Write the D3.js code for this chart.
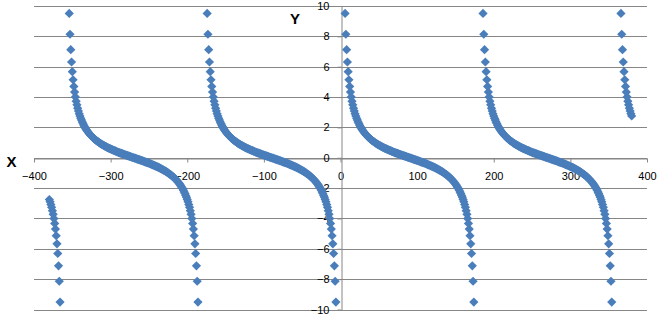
<!DOCTYPE html>
<html>
<head>
<meta charset="utf-8">
<script src="https://cdn.jsdelivr.net/npm/d3@7"></script>
<style>
  body { margin: 0; background: #fff; }
  text { font-family: "Liberation Sans", Arial, sans-serif; }
</style>
</head>
<body>
<svg id="chart" width="661" height="318"></svg>
<script>
// one point per degree; each full branch starts at these x values
const branchStartX = [-354, -174, 6, 186];
const branchY = [
  9.51, 8.14, 7.12, 6.31, 5.67, 5.14, 4.70, 4.33, 4.01, 3.73,
  3.49, 3.27, 3.08, 2.90, 2.75, 2.61, 2.48, 2.36, 2.25, 2.14,
  2.05, 1.96, 1.88, 1.80, 1.73, 1.66, 1.60, 1.54, 1.48, 1.43,
  1.38, 1.33, 1.28, 1.23, 1.19, 1.15, 1.11, 1.07, 1.04, 1.00,
  0.97, 0.93, 0.90, 0.87, 0.84, 0.81, 0.78, 0.75, 0.73, 0.70,
  0.67, 0.65, 0.62, 0.60, 0.58, 0.55, 0.53, 0.51, 0.49, 0.47,
  0.45, 0.42, 0.40, 0.38, 0.36, 0.34, 0.32, 0.31, 0.29, 0.27,
  0.25, 0.23, 0.21, 0.19, 0.18, 0.16, 0.14, 0.12, 0.11, 0.09,
  0.07, 0.05, 0.03, 0.02, 0,
  -0.02, -0.03, -0.05, -0.07, -0.09, -0.11, -0.12, -0.14, -0.16, -0.18,
  -0.19, -0.21, -0.23, -0.25, -0.27, -0.29, -0.31, -0.32, -0.34, -0.36,
  -0.38, -0.40, -0.42, -0.45, -0.47, -0.49, -0.51, -0.53, -0.55, -0.58,
  -0.60, -0.62, -0.65, -0.67, -0.70, -0.73, -0.75, -0.78, -0.81, -0.84,
  -0.87, -0.90, -0.93, -0.97, -1.00, -1.04, -1.07, -1.11, -1.15, -1.19,
  -1.23, -1.28, -1.33, -1.38, -1.43, -1.48, -1.54, -1.60, -1.66, -1.73,
  -1.80, -1.88, -1.96, -2.05, -2.14, -2.25, -2.36, -2.48, -2.61, -2.75,
  -2.90, -3.08, -3.27, -3.49, -3.73, -4.01, -4.33, -4.70, -5.14, -5.67,
  -6.31, -7.12, -8.14, -9.51
];

// partial branches at both ends
const leftTailStartX = -380;
const leftTailY = [-2.75, -2.90, -3.08, -3.27, -3.49, -3.73, -4.01, -4.33, -4.70, -5.14, -5.67, -6.31, -7.12, -8.14, -9.51];
const rightTailStartX = 366;
const rightTailY = [9.51, 8.14, 7.12, 6.31, 5.67, 5.14, 4.70, 4.33, 4.01, 3.73, 3.49, 3.27, 3.08, 2.90, 2.75];

const xTicks = [-400, -300, -200, -100, 0, 100, 200, 300, 400];
const yTicks = [-10, -8, -6, -4, -2, 0, 2, 4, 6, 8, 10];

const grid_color = '#868686';
const marker_color = '#4a7ebb';
const marker_half = 4.6;

const points = [];
const addBranch = (x0, ys) => ys.forEach((v, i) => points.push({x: x0 + i, y: v}));
addBranch(leftTailStartX, leftTailY);
branchStartX.forEach(x0 => addBranch(x0, branchY));
addBranch(rightTailStartX, rightTailY);

const svg = d3.select('#chart');

const x = d3.scaleLinear().domain([-400, 400]).range([34, 647]);
const y = d3.scaleLinear().domain([-10, 10]).range([309.5, 6]);

// horizontal gridlines
svg.append('g')
  .selectAll('line')
  .data(yTicks)
  .join('line')
  .attr('x1', x(-400))
  .attr('x2', x(400))
  .attr('y1', d => Math.round(y(d)) + 0.5)
  .attr('y2', d => Math.round(y(d)) + 0.5)
  .attr('stroke', grid_color)
  .attr('stroke-width', 1);

// x axis sits on y = 0
const xAxis = svg.append('g')
  .attr('transform', `translate(0,${Math.round(y(0)) + 0.5})`)
  .call(d3.axisBottom(x).tickValues(xTicks).tickSize(4).tickPadding(10).tickSizeOuter(0));

// y axis sits on x = 0
const yAxis = svg.append('g')
  .attr('transform', `translate(${Math.round(x(0)) + 0.5},0)`)
  .call(d3.axisLeft(y).tickValues(yTicks).tickSize(4).tickPadding(8).tickSizeOuter(0));

[xAxis, yAxis].forEach(g => {
  g.select('.domain').attr('stroke', grid_color);
  g.selectAll('.tick line').attr('stroke', grid_color);
  g.selectAll('.tick text')
    .attr('fill', '#000')
    .style('font-size', '11px')
    .style('font-family', '"Liberation Sans", Arial, sans-serif');
});

// axis titles
svg.append('text')
  .attr('x', 11.5).attr('y', 161)
  .attr('text-anchor', 'middle')
  .attr('dominant-baseline', 'central')
  .style('font-size', '15px').style('font-weight', 'bold')
  .text('X');

svg.append('text')
  .attr('x', 295).attr('y', 18)
  .attr('text-anchor', 'middle')
  .attr('dominant-baseline', 'central')
  .style('font-size', '15px').style('font-weight', 'bold')
  .text('Y');

// diamond markers
const diamond = `M0,${-marker_half}L${marker_half},0L0,${marker_half}L${-marker_half},0Z`;
svg.append('g')
  .selectAll('path')
  .data(points)
  .join('path')
  .attr('d', diamond)
  .attr('transform', d => `translate(${x(d.x)},${y(d.y)})`)
  .attr('fill', marker_color);
</script>
</body>
</html>
